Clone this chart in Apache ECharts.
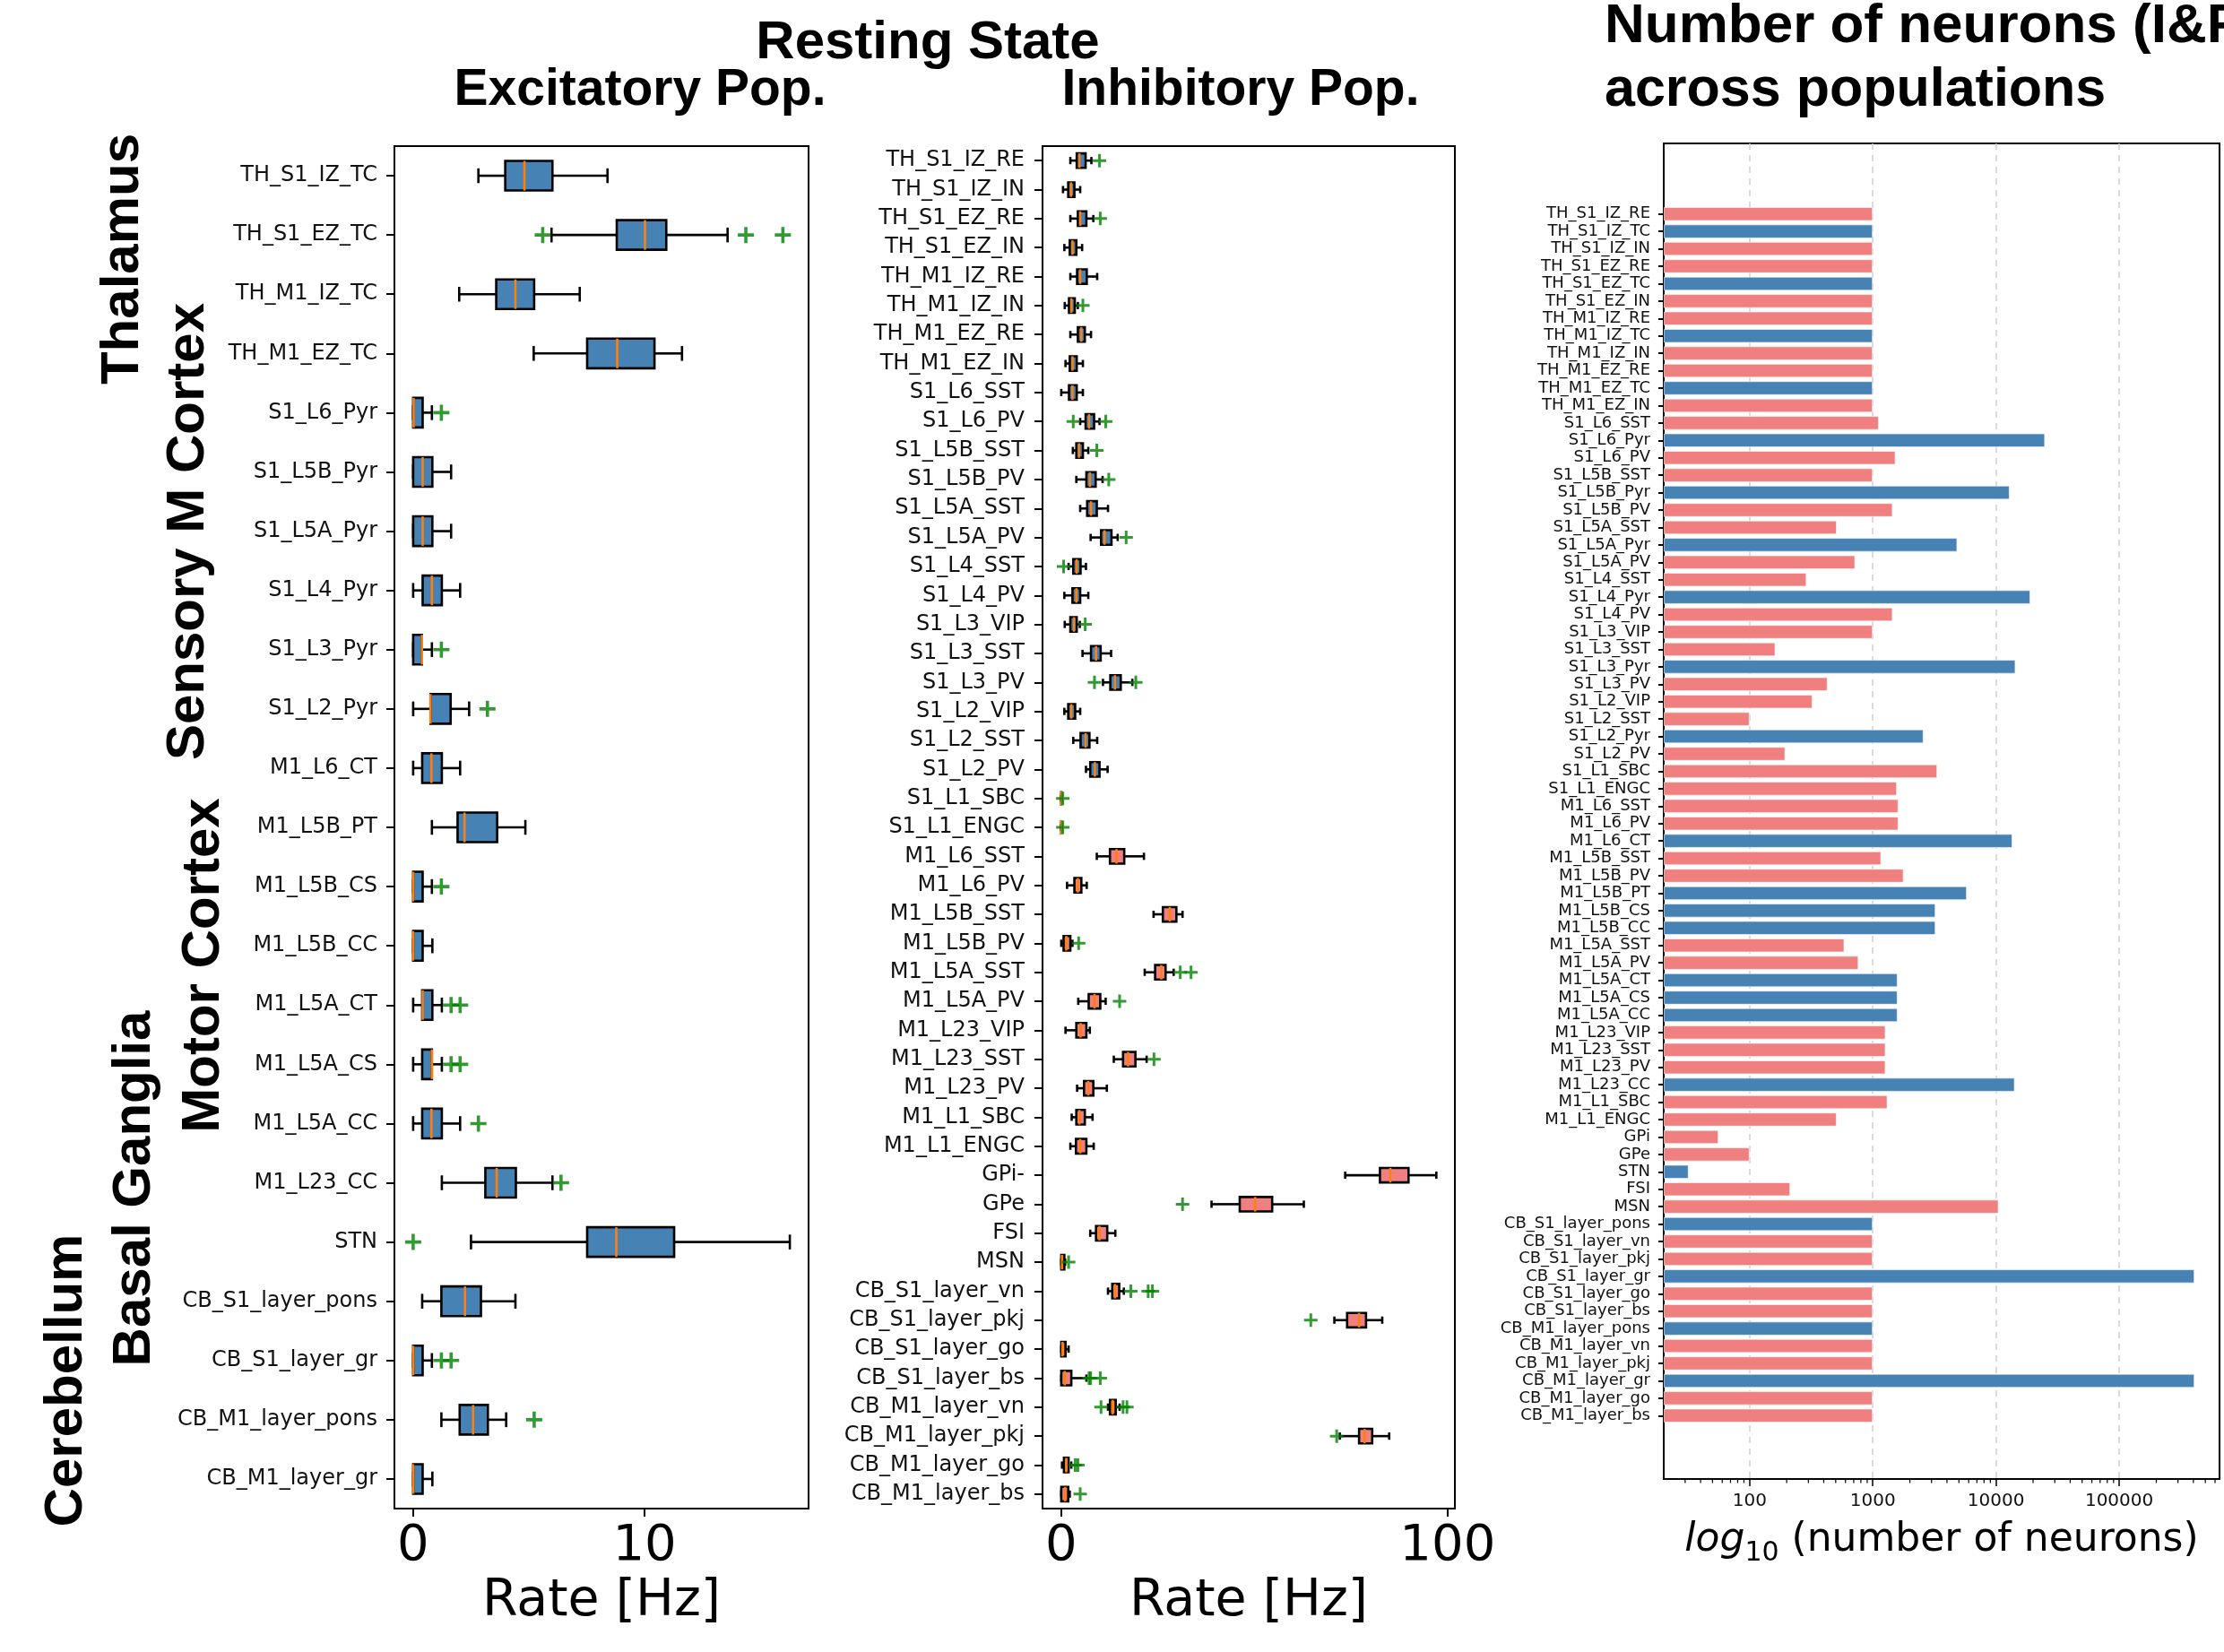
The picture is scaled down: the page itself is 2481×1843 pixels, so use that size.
<!DOCTYPE html>
<html>
<head>
<meta charset="utf-8">
<script src="https://cdn.jsdelivr.net/npm/echarts@6/dist/echarts.min.js"></script>
<style>
  html, body { margin: 0; padding: 0; background: #fff; }
  #chart { width: 2481px; height: 1843px; }
</style>
</head>
<body>
<div id="chart"></div>
<script>
// ---- excitatory populations: [lower whisker, Q1, median, Q3, upper whisker] in Hz
const excNames = [
  "TH_S1_IZ_TC", "TH_S1_EZ_TC", "TH_M1_IZ_TC", "TH_M1_EZ_TC",
  "S1_L6_Pyr", "S1_L5B_Pyr", "S1_L5A_Pyr", "S1_L4_Pyr", "S1_L3_Pyr", "S1_L2_Pyr",
  "M1_L6_CT", "M1_L5B_PT", "M1_L5B_CS", "M1_L5B_CC", "M1_L5A_CT", "M1_L5A_CS",
  "M1_L5A_CC", "M1_L23_CC", "STN", "CB_S1_layer_pons", "CB_S1_layer_gr",
  "CB_M1_layer_pons", "CB_M1_layer_gr",
];
const excStats = [
  [2.82, 3.98, 4.81, 6.02, 8.40], [5.98, 8.80, 10.02, 10.94, 13.59],
  [1.99, 3.59, 4.42, 5.23, 7.20], [5.21, 7.52, 8.82, 10.43, 11.62],
  [0, 0, 0.02, 0.41, 0.81], [0, 0, 0.41, 0.83, 1.64], [0, 0, 0.41, 0.83, 1.64],
  [0, 0.41, 0.81, 1.24, 2.03], [0, 0, 0.38, 0.38, 0.81], [0, 0.75, 0.75, 1.62, 2.42],
  [0, 0.39, 0.79, 1.24, 2.03], [0.81, 1.92, 2.22, 3.63, 4.85], [0, 0, 0, 0.41, 0.81],
  [0, 0, 0, 0.41, 0.83], [0, 0.39, 0.41, 0.83, 1.24], [0, 0.39, 0.81, 0.81, 1.24],
  [0, 0.39, 0.79, 1.24, 2.03], [1.24, 3.12, 3.61, 4.44, 6.02], [2.50, 7.52, 8.78, 11.28, 16.28],
  [0.39, 1.22, 2.24, 2.93, 4.42], [0, 0, 0, 0.41, 0.81], [1.22, 2.01, 2.59, 3.23, 4.02],
  [0, 0, 0, 0.41, 0.83],
];
const excFliers = [
  [], [5.60, 14.38, 15.98], [], [], [1.22], [], [], [], [1.22], [3.21],
  [], [], [1.22], [], [1.64, 2.03], [1.64, 2.03], [2.82], [6.39], [0],
  [], [1.22, 1.64], [5.23], [],
];

// ---- inhibitory populations
const inhNames = [
  "TH_S1_IZ_RE", "TH_S1_IZ_IN", "TH_S1_EZ_RE", "TH_S1_EZ_IN", "TH_M1_IZ_RE", "TH_M1_IZ_IN",
  "TH_M1_EZ_RE", "TH_M1_EZ_IN", "S1_L6_SST", "S1_L6_PV", "S1_L5B_SST", "S1_L5B_PV",
  "S1_L5A_SST", "S1_L5A_PV", "S1_L4_SST", "S1_L4_PV", "S1_L3_VIP", "S1_L3_SST", "S1_L3_PV",
  "S1_L2_VIP", "S1_L2_SST", "S1_L2_PV", "S1_L1_SBC", "S1_L1_ENGC", "M1_L6_SST", "M1_L6_PV",
  "M1_L5B_SST", "M1_L5B_PV", "M1_L5A_SST", "M1_L5A_PV", "M1_L23_VIP", "M1_L23_SST",
  "M1_L23_PV", "M1_L1_SBC", "M1_L1_ENGC", "GPi-", "GPe", "FSI", "MSN",
  "CB_S1_layer_vn", "CB_S1_layer_pkj", "CB_S1_layer_go", "CB_S1_layer_bs",
  "CB_M1_layer_vn", "CB_M1_layer_pkj", "CB_M1_layer_go", "CB_M1_layer_bs",
];
const inhStats = [
  [2.35, 4.0, 4.7, 6.3, 7.8], [0.45, 1.8, 2.5, 3.4, 4.9], [2.35, 4.3, 4.9, 6.5, 8.3],
  [0.8, 2.2, 2.9, 3.9, 5.4], [2.35, 4.1, 4.9, 6.6, 9.3], [0.9, 2.0, 2.6, 3.5, 4.3],
  [2.35, 4.3, 5.2, 6.1, 7.7], [1.1, 2.2, 2.9, 4.0, 5.6], [0, 2.0, 2.9, 4.0, 5.6],
  [4.9, 6.3, 7.2, 8.5, 9.9], [3.0, 3.9, 4.6, 5.6, 7.0], [3.9, 6.5, 7.4, 8.9, 10.7],
  [4.9, 6.7, 7.7, 9.2, 12.1], [7.6, 10.3, 11.2, 13.0, 14.6], [1.9, 3.1, 4.0, 5.0, 6.4],
  [0.8, 2.9, 3.9, 4.9, 7.0], [0.9, 2.35, 3.3, 4.0, 4.8], [5.5, 7.7, 9.0, 10.2, 12.9],
  [10.8, 12.7, 13.9, 15.4, 18.4], [0.8, 1.8, 2.6, 3.6, 4.9], [3.1, 5.0, 6.3, 7.3, 9.3],
  [6.4, 7.5, 8.7, 9.9, 12.0], [0, 0, 0, 0, 0], [0, 0, 0, 0, 0],
  [9.2, 12.6, 14.3, 16.3, 21.4], [1.5, 3.4, 4.3, 5.2, 6.6], [23.9, 26.3, 28.1, 29.8, 31.4],
  [0, 0.6, 1.3, 2.35, 2.9], [21.6, 24.3, 25.9, 27.0, 29.1], [4.4, 7.1, 8.6, 10.1, 11.5],
  [1.1, 3.9, 5.0, 6.5, 7.4], [13.6, 16.0, 17.3, 19.2, 22.1], [4.1, 5.9, 7.0, 8.3, 11.8],
  [2.7, 3.9, 4.7, 6.1, 8.1], [2.35, 3.8, 4.9, 6.5, 8.4], [73.5, 82.5, 85.2, 89.9, 97.1],
  [38.9, 46.2, 50.2, 54.6, 62.8], [7.5, 9.0, 9.9, 11.9, 14.0], [0, 0, 0.2, 0.8, 1.0],
  [12.1, 13.2, 13.9, 15.0, 16.2], [70.7, 74.0, 77.1, 78.9, 83.1], [0, 0, 0.3, 1.1, 1.9],
  [0, 0, 0.9, 2.6, 6.5], [12.1, 12.6, 13.3, 14.1, 15.1], [72.1, 77.1, 78.5, 80.5, 84.9],
  [0.2, 0.7, 1.3, 1.9, 2.6], [0, 0, 1.0, 1.8, 2.2],
];
const inhFliers = [
  [9.9], [], [10.1], [], [], [5.6], [], [], [], [3.1, 11.5], [9.2], [12.3],
  [], [16.8], [0.6], [], [6.2], [], [8.6, 19.3], [], [], [], [0.4], [0.4],
  [], [], [], [4.5], [30.8, 33.6], [15.1], [], [24.0], [], [], [], [], [31.4], [], [1.9],
  [18.0, 22.5, 23.6], [64.6], [], [7.2, 7.6, 10.1], [10.3, 16.0, 17.0], [71.3], [3.6, 4.3], [4.9],
];

// ---- neuron counts per population (E = excitatory, I = inhibitory)
const countNames = [
  "TH_S1_IZ_RE", "TH_S1_IZ_TC", "TH_S1_IZ_IN", "TH_S1_EZ_RE", "TH_S1_EZ_TC", "TH_S1_EZ_IN",
  "TH_M1_IZ_RE", "TH_M1_IZ_TC", "TH_M1_IZ_IN", "TH_M1_EZ_RE", "TH_M1_EZ_TC", "TH_M1_EZ_IN",
  "S1_L6_SST", "S1_L6_Pyr", "S1_L6_PV", "S1_L5B_SST", "S1_L5B_Pyr", "S1_L5B_PV",
  "S1_L5A_SST", "S1_L5A_Pyr", "S1_L5A_PV", "S1_L4_SST", "S1_L4_Pyr", "S1_L4_PV",
  "S1_L3_VIP", "S1_L3_SST", "S1_L3_Pyr", "S1_L3_PV", "S1_L2_VIP", "S1_L2_SST", "S1_L2_Pyr",
  "S1_L2_PV", "S1_L1_SBC", "S1_L1_ENGC", "M1_L6_SST", "M1_L6_PV", "M1_L6_CT",
  "M1_L5B_SST", "M1_L5B_PV", "M1_L5B_PT", "M1_L5B_CS", "M1_L5B_CC", "M1_L5A_SST",
  "M1_L5A_PV", "M1_L5A_CT", "M1_L5A_CS", "M1_L5A_CC", "M1_L23_VIP", "M1_L23_SST",
  "M1_L23_PV", "M1_L23_CC", "M1_L1_SBC", "M1_L1_ENGC", "GPi", "GPe", "STN", "FSI", "MSN",
  "CB_S1_layer_pons", "CB_S1_layer_vn", "CB_S1_layer_pkj", "CB_S1_layer_gr", "CB_S1_layer_go",
  "CB_S1_layer_bs", "CB_M1_layer_pons", "CB_M1_layer_vn", "CB_M1_layer_pkj", "CB_M1_layer_gr",
  "CB_M1_layer_go", "CB_M1_layer_bs",
];
const countValues = [
  1000, 1000, 1000, 1000, 1000, 1000, 1000, 1000, 1000, 1000, 1000, 1000,
  1120, 25000, 1530, 1000, 12900, 1450, 510, 4850, 720, 290, 19000, 1450,
  1000, 162, 14400, 430, 324, 100, 2580, 195, 3340, 1570,
  1615, 1615, 13600, 1170, 1780, 5800, 3230, 3230, 588, 766, 1590, 1590, 1590,
  1270, 1270, 1270, 14200, 1316, 509, 56, 100, 32, 214, 10500,
  1000, 1000, 1000, 409000, 1000, 1000, 1000, 1000, 1000, 409000, 1000, 1000,
];
const countKind = [
  "I", "E", "I", "I", "E", "I", "I", "E", "I", "I", "E", "I",
  "I", "E", "I", "I", "E", "I", "I", "E", "I", "I", "E", "I",
  "I", "I", "E", "I", "I", "I", "E", "I", "I", "I",
  "I", "I", "E", "I", "I", "E", "E", "E", "I", "I", "E", "E", "E",
  "I", "I", "I", "E", "I", "I", "I", "I", "E", "I", "I",
  "E", "I", "I", "E", "I", "I", "E", "I", "I", "E", "I", "I",
];

// axis ranges and ticks
const excRange = [-0.81, 17.09];
const inhRange = [-4.85, 101.9];
const countRange = [20.1, 652000];
const excTicks = [0, 10];
const inhTicks = [0, 100];
const countMinorTicks = [];
[10, 100, 1000, 10000, 100000].forEach((d) => {
  for (let k = 2; k <= 9; k++) countMinorTicks.push(d * k);
});

const BLUE = "#4682b4";
const CORAL = "#f08080";
const ORANGE = "#ff7f0e";
const GREEN = "#008000";
const PLUS = "path://M4,0h2v4h4v2h-4v4h-2v-4h-4v-2h4z";
const TXT = "DejaVu Sans";

const chart = echarts.init(document.getElementById("chart"), null, { renderer: "canvas" });

const isBlueInh = (name) => name.startsWith("TH_") || name.startsWith("S1_");

function boxSeries(idx, names, stats, colorOf) {
  return {
    type: "custom",
    xAxisIndex: idx,
    yAxisIndex: idx,
    clip: false,
    silent: true,
    z: 2,
    data: stats.map((s, i) => [i].concat(s)),
    encode: { x: [1, 2, 3, 4, 5], y: 0 },
    renderItem: (params, api) => {
      const c = api.value(0);
      const p = [1, 2, 3, 4, 5].map((d) => api.coord([api.value(d), c]));
      const band = api.size([0, 1])[1];
      const y = p[0][1];
      const hb = band * 0.25;
      const hc = band * 0.125;
      const ln = (x1, y1, x2, y2, color) => ({
        type: "line",
        shape: { x1, y1, x2, y2 },
        style: { stroke: color || "#000", lineWidth: 2.6 },
      });
      return {
        type: "group",
        children: [
          ln(p[0][0], y, p[1][0], y),
          ln(p[3][0], y, p[4][0], y),
          ln(p[0][0], y - hc, p[0][0], y + hc),
          ln(p[4][0], y - hc, p[4][0], y + hc),
          {
            type: "rect",
            shape: { x: p[1][0], y: y - hb, width: p[3][0] - p[1][0], height: 2 * hb },
            style: { fill: colorOf(names[c]), stroke: "#000", lineWidth: 2.6 },
          },
          ln(p[2][0], y - hb, p[2][0], y + hb, ORANGE),
        ],
      };
    },
  };
}

function flierSeries(idx, fliers, size) {
  const pts = [];
  fliers.forEach((f, i) => f.forEach((v) => pts.push([v, i])));
  return {
    type: "scatter",
    xAxisIndex: idx,
    yAxisIndex: idx,
    data: pts,
    symbol: PLUS,
    symbolSize: size,
    itemStyle: { color: GREEN },
    silent: true,
    z: 3,
  };
}

function catAxis(idx, names, fontSize, tickLen, margin) {
  return {
    type: "category",
    gridIndex: idx,
    data: names,
    inverse: true,
    axisLine: { show: false, onZero: false },
    axisTick: { show: true, alignWithLabel: true, interval: 0, length: tickLen, lineStyle: { color: "#000", width: 2 } },
    axisLabel: { interval: 0, fontSize, fontFamily: TXT, color: "#111", margin },
    splitLine: { show: false },
  };
}

function rateAxis(idx, range, ticks) {
  return {
    type: "value",
    gridIndex: idx,
    min: range[0],
    max: range[1],
    axisLine: { show: false, onZero: false },
    axisTick: { show: true, customValues: ticks, length: 9, lineStyle: { color: "#000", width: 2 } },
    axisLabel: { customValues: ticks, fontSize: 56, fontFamily: TXT, color: "#000", margin: 14 },
    splitLine: { show: false },
    name: "Rate [Hz]",
    nameLocation: "middle",
    nameGap: 76,
    nameTextStyle: { fontSize: 57, fontFamily: TXT, color: "#000" },
  };
}

const gridBase = { show: true, borderColor: "#000", borderWidth: 2, backgroundColor: "transparent", containLabel: false, outerBoundsMode: "none" };

const titleFont = "Liberation Sans";
const sideLabels = [
  { text: "Thalamus", x: 137, y: 289 },
  { text: "Sensory M Cortex", x: 210, y: 593 },
  { text: "Motor Cortex", x: 227, y: 1077 },
  { text: "Basal Ganglia", x: 150, y: 1326 },
  { text: "Cerebellum", x: 74, y: 1540 },
];

const option = {
  animation: false,
  backgroundColor: "#fff",
  grid: [
    Object.assign({ left: 440, top: 163, width: 462, height: 1520 }, gridBase),
    Object.assign({ left: 1163, top: 163, width: 460, height: 1520 }, gridBase),
    Object.assign({ left: 1856, top: 160, width: 620, height: 1490 }, gridBase),
    { left: 1856, top: 229, width: 620, height: 1360, show: false, containLabel: false, outerBoundsMode: "none" },
  ],
  xAxis: [
    rateAxis(0, excRange, excTicks),
    rateAxis(1, inhRange, inhTicks),
    {
      type: "log",
      gridIndex: 2,
      logBase: 10,
      min: countRange[0],
      max: countRange[1],
      axisLine: { show: false, onZero: false },
      axisTick: { show: true, length: 8, lineStyle: { color: "#000", width: 1.5 } },
      axisLabel: {
        fontSize: 20, fontFamily: TXT, color: "#111", margin: 15,
        showMinLabel: false, showMaxLabel: false,
        formatter: (v) => String(Math.round(v)),
      },
      splitLine: { show: true, showMinLine: false, showMaxLine: false, lineStyle: { type: [7, 6], color: "#d0d0d0", width: 1.5 } },
      name: "{i|log}{s|10} (number of neurons)",
      nameLocation: "middle",
      nameGap: 38,
      nameTextStyle: {
        fontSize: 44, fontFamily: TXT, color: "#000", lineHeight: 58,
        rich: {
          i: { fontSize: 44, fontFamily: TXT, fontStyle: "italic", color: "#000", lineHeight: 58 },
          s: { fontSize: 30, fontFamily: TXT, color: "#000", lineHeight: 30, verticalAlign: "bottom" },
        },
      },
    },
    {
      type: "log",
      gridIndex: 3,
      logBase: 10,
      min: countRange[0],
      max: countRange[1],
      startValue: countRange[0],
      show: false,
    },
  ],
  yAxis: [
    catAxis(0, excNames, 24, 9, 19),
    catAxis(1, inhNames, 24, 9, 20),
    { type: "value", gridIndex: 2, min: 0, max: 1, show: false },
    catAxis(3, countNames, 18, 6, 15),
  ],
  series: [
    boxSeries(0, excNames, excStats, () => BLUE),
    flierSeries(0, excFliers, 18),
    boxSeries(1, inhNames, inhStats, (n) => (isBlueInh(n) ? BLUE : CORAL)),
    flierSeries(1, inhFliers, 15),
    {
      type: "bar",
      xAxisIndex: 3,
      yAxisIndex: 3,
      barWidth: "80%",
      silent: true,
      data: countValues.map((v, i) => ({
        value: v,
        itemStyle: { color: countKind[i] === "E" ? BLUE : CORAL },
      })),
      itemStyle: { borderColor: "rgba(255,255,255,0.6)", borderWidth: 1 },
    },
    {
      type: "custom",
      xAxisIndex: 2,
      yAxisIndex: 2,
      clip: false,
      silent: true,
      data: countMinorTicks.filter((v) => v > countRange[0] && v < countRange[1]).map((v) => [v, 0]),
      renderItem: (params, api) => {
        const p = api.coord([api.value(0), 0]);
        return {
          type: "line",
          shape: { x1: p[0], y1: p[1], x2: p[0], y2: p[1] + 4.5 },
          style: { stroke: "#000", lineWidth: 1.2 },
        };
      },
    },
  ],
  graphic: [
    { type: "text", x: 1035, y: 48, style: { text: "Resting State", fontSize: 60, fontWeight: "bold", fontFamily: titleFont, fill: "#000", align: "center", verticalAlign: "middle" } },
    { type: "text", x: 714, y: 101, style: { text: "Excitatory Pop.", fontSize: 57, fontWeight: "bold", fontFamily: titleFont, fill: "#000", align: "center", verticalAlign: "middle" } },
    { type: "text", x: 1384, y: 101, style: { text: "Inhibitory Pop.", fontSize: 57, fontWeight: "bold", fontFamily: titleFont, fill: "#000", align: "center", verticalAlign: "middle" } },
    { type: "text", x: 1790, y: 30, style: { text: "Number of neurons (I&F)", fontSize: 62, fontWeight: "bold", fontFamily: titleFont, fill: "#000", align: "left", verticalAlign: "middle" } },
    { type: "text", x: 1790, y: 101, style: { text: "across populations", fontSize: 61, fontWeight: "bold", fontFamily: titleFont, fill: "#000", align: "left", verticalAlign: "middle" } },
  ].concat(sideLabels.map((s) => ({
    type: "text",
    x: s.x,
    y: s.y,
    rotation: Math.PI / 2,
    style: { text: s.text, fontSize: 60, fontWeight: "bold", fontFamily: titleFont, fill: "#000", align: "center", verticalAlign: "middle" },
  }))),
};

chart.setOption(option);
</script>
</body>
</html>
